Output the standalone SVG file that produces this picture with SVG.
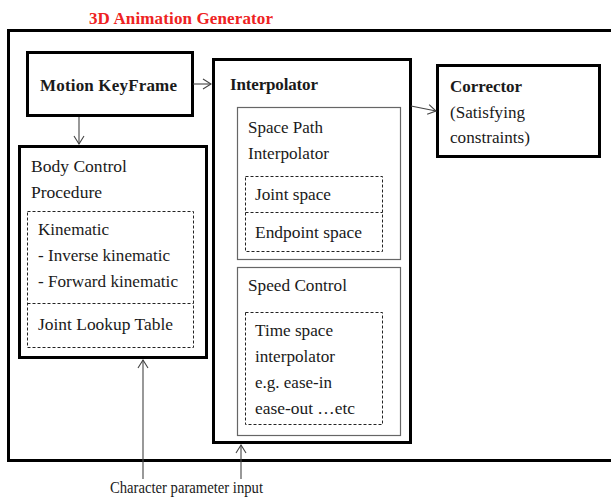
<svg xmlns="http://www.w3.org/2000/svg" width="611" height="497" viewBox="0 0 611 497">
<style>
text{font-family:'Liberation Serif','Times New Roman',Times,serif;font-size:17px;fill:#1a1a1a}
.b{font-weight:bold;font-size:17px}
.thick{fill:#fff;stroke:#000;stroke-width:3}
.thin{fill:#fff;stroke:#666;stroke-width:1.2}
.dash{fill:none;stroke:#222;stroke-width:1;stroke-dasharray:3,2}
.conn{stroke:#444;stroke-width:1.1;fill:none;marker-end:url(#ah)}
</style>
<defs>
<marker id="ah" markerUnits="userSpaceOnUse" markerWidth="10" markerHeight="12" refX="9" refY="6" orient="auto">
<path d="M1,1 L9,6 L1,11" fill="none" stroke="#444" stroke-width="1.1"/>
</marker>
</defs>
<rect width="611" height="497" fill="#fff"/>
<g font-family="Liberation Serif, Times New Roman, serif">
<text x="89" y="24" class="b" style="fill:#ee2222" textLength="184" lengthAdjust="spacing">3D Animation Generator</text>
<g id="generator">
<rect x="8.5" y="30.5" width="620" height="430" class="thick"/>
</g>
<g id="motion-keyframe">
<rect x="27.5" y="52.5" width="165" height="63" class="thick"/>
<text x="40" y="91" class="b" textLength="137" lengthAdjust="spacing">Motion KeyFrame</text>
</g>
<g id="body-control">
<rect x="19.5" y="146.5" width="187" height="211" class="thick"/>
<text x="31" y="172" textLength="96" lengthAdjust="spacingAndGlyphs">Body Control</text>
<text x="31" y="198" textLength="71" lengthAdjust="spacingAndGlyphs">Procedure</text>
<rect x="27.5" y="211.5" width="166" height="136" class="dash"/>
<line x1="27.5" y1="303.5" x2="193.5" y2="303.5" class="dash"/>
<text x="38" y="235" textLength="71" lengthAdjust="spacingAndGlyphs">Kinematic</text>
<text x="38" y="261" textLength="132" lengthAdjust="spacingAndGlyphs">- Inverse kinematic</text>
<text x="38" y="287" textLength="140" lengthAdjust="spacingAndGlyphs">- Forward kinematic</text>
<text x="38" y="330" textLength="135" lengthAdjust="spacingAndGlyphs">Joint Lookup Table</text>
</g>
<g id="interpolator">
<rect x="213.5" y="59.5" width="197" height="383" class="thick"/>
<text x="230" y="90" class="b" textLength="88" lengthAdjust="spacing">Interpolator</text>
<g id="space-path">
<rect x="237.5" y="107.5" width="163" height="152" class="thin"/>
<text x="248" y="133" textLength="75" lengthAdjust="spacingAndGlyphs">Space Path</text>
<text x="248" y="159" textLength="81" lengthAdjust="spacingAndGlyphs">Interpolator</text>
<rect x="245.5" y="176.5" width="137" height="75" class="dash"/>
<line x1="245.5" y1="212.5" x2="382.5" y2="212.5" class="dash"/>
<text x="255" y="200" textLength="76" lengthAdjust="spacingAndGlyphs">Joint space</text>
<text x="255" y="238" textLength="107" lengthAdjust="spacingAndGlyphs">Endpoint space</text>
</g>
<g id="speed-control">
<rect x="237.5" y="267.5" width="163" height="168" class="thin"/>
<text x="248" y="291" textLength="99" lengthAdjust="spacingAndGlyphs">Speed Control</text>
<rect x="245.5" y="312.5" width="137" height="112" class="dash"/>
<text x="255" y="336" textLength="78" lengthAdjust="spacingAndGlyphs">Time space</text>
<text x="255" y="362" textLength="80" lengthAdjust="spacingAndGlyphs">interpolator</text>
<text x="255" y="388" textLength="77" lengthAdjust="spacingAndGlyphs">e.g. ease-in</text>
<text x="255" y="414" textLength="100" lengthAdjust="spacingAndGlyphs">ease-out …etc</text>
</g>
</g>
<g id="corrector">
<rect x="437.5" y="65.5" width="162" height="91" class="thick"/>
<text x="450" y="92" class="b" textLength="72" lengthAdjust="spacing">Corrector</text>
<text x="450" y="118" textLength="75" lengthAdjust="spacingAndGlyphs">(Satisfying</text>
<text x="450" y="143" textLength="80" lengthAdjust="spacingAndGlyphs">constraints)</text>
</g>
<text x="110" y="493" textLength="153" lengthAdjust="spacingAndGlyphs">Character parameter input</text>
</g>
<g id="connectors">
<line x1="193" y1="84" x2="211" y2="84" class="conn"/>
<line x1="79" y1="117" x2="79" y2="144" class="conn"/>
<line x1="411" y1="106" x2="436" y2="111" class="conn"/>
<line x1="143" y1="479" x2="143" y2="360" class="conn"/>
<line x1="241" y1="479" x2="241" y2="445" class="conn"/>
</g>
</svg>
